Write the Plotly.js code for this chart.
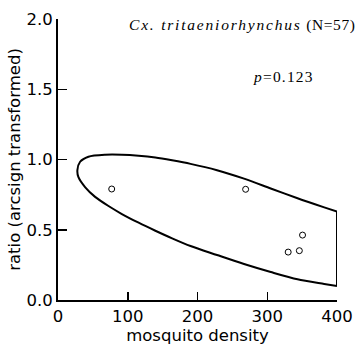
<!DOCTYPE html>
<html>
<head>
<meta charset="utf-8">
<script src="https://cdn.plot.ly/plotly-3.0.1.min.js"></script>
<style>html,body{margin:0;padding:0;background:#fff;}#chart{width:361px;height:347px;}</style>
</head>
<body>
<div id="chart"></div>
<script>
// Observed points
var densityX = [77, 269, 350.6, 330, 346];
var ratioY = [0.79, 0.788, 0.462, 0.341, 0.351];

// Confidence-region outline (upper edge right→left, around left end, lower edge left→right)
var curveX = [400, 381.7, 343.4, 305, 266.7, 228, 190, 163.6, 139.6, 115.6, 91.6, 67.6, 43.6, 31.7, 27.8,
              29.3, 38.8, 53.2, 72.4, 91.6, 115.6, 139.6, 163.6, 190, 228, 266.7, 305, 343.4, 381.7, 400];
var curveY = [0.629, 0.659, 0.724, 0.794, 0.864, 0.924, 0.969, 0.994, 1.014, 1.027, 1.034, 1.034, 1.02, 0.984, 0.924,
              0.874, 0.804, 0.734, 0.669, 0.612, 0.55, 0.493, 0.439, 0.384, 0.32, 0.256, 0.199, 0.147, 0.114, 0.099];
// Right-side boundary at x = 400
var edgeX = [400, 400];
var edgeY = [0.629, 0.099];

var xTicks = [0, 100, 200, 300, 400];
var yTicks = [0.0, 0.5, 1.0, 1.5, 2.0];
var yTickText = ['0.0', '0.5', '1.0', '1.5', '2.0'];

var traces = [
  {x: curveX, y: curveY, mode: 'lines', type: 'scatter', line: {color: '#000', width: 2, shape: 'spline', smoothing: 0.8}, hoverinfo: 'skip'},
  {x: edgeX, y: edgeY, mode: 'lines', type: 'scatter', line: {color: '#000', width: 2}, hoverinfo: 'skip'},
  {x: densityX, y: ratioY, mode: 'markers', type: 'scatter', marker: {symbol: 'circle-open', size: 6, color: '#000', line: {width: 1, color: '#000'}}}
];

var axisFont = 'DejaVu Sans, Liberation Sans, Arial, sans-serif';
var serif = 'Liberation Serif, Times New Roman, serif';

var layout = {
  width: 361, height: 347,
  margin: {l: 58, r: 24, t: 19, b: 47},
  paper_bgcolor: '#fff', plot_bgcolor: '#fff',
  showlegend: false,
  font: {family: axisFont, color: '#000', size: 16.5},
  xaxis: {
    range: [0, 400], tickvals: xTicks, ticktext: xTicks.map(String),
    showgrid: false, zeroline: false, showline: true, linecolor: '#000', linewidth: 2,
    ticks: 'inside', ticklen: 8, tickwidth: 1.5, tickcolor: '#000',
    tickfont: {family: axisFont, size: 16.5},
    title: {text: 'mosquito density', font: {family: axisFont, size: 16.5}, standoff: 4}
  },
  yaxis: {
    range: [0, 2.0], tickvals: yTicks, ticktext: yTickText,
    showgrid: false, zeroline: false, showline: true, linecolor: '#000', linewidth: 2,
    ticks: 'inside', ticklen: 9, tickwidth: 1.5, tickcolor: '#000',
    tickfont: {family: axisFont, size: 16.5},
    title: {text: 'ratio (arcsign transformed)', font: {family: axisFont, size: 16.5}, standoff: 2}
  },
  annotations: [
    {xref: 'paper', yref: 'paper', x: 0.2476, y: 0.9786, xanchor: 'left', yanchor: 'middle', showarrow: false,
     text: '<i><span style="letter-spacing:1.8px">Cx. tritaeniorhynchus</span></i><span style="letter-spacing:0.6px"> (N=57)</span>',
     font: {family: serif, size: 15.5, color: '#000'}},
    {xref: 'paper', yref: 'paper', x: 0.6925, y: 0.797, xanchor: 'left', yanchor: 'middle', showarrow: false,
     text: '<span style="letter-spacing:1.2px"><i>p</i>=0.123</span>',
     font: {family: serif, size: 15.5, color: '#000'}}
  ]
};

Plotly.newPlot('chart', traces, layout, {displayModeBar: false, staticPlot: true});
</script>
</body>
</html>
